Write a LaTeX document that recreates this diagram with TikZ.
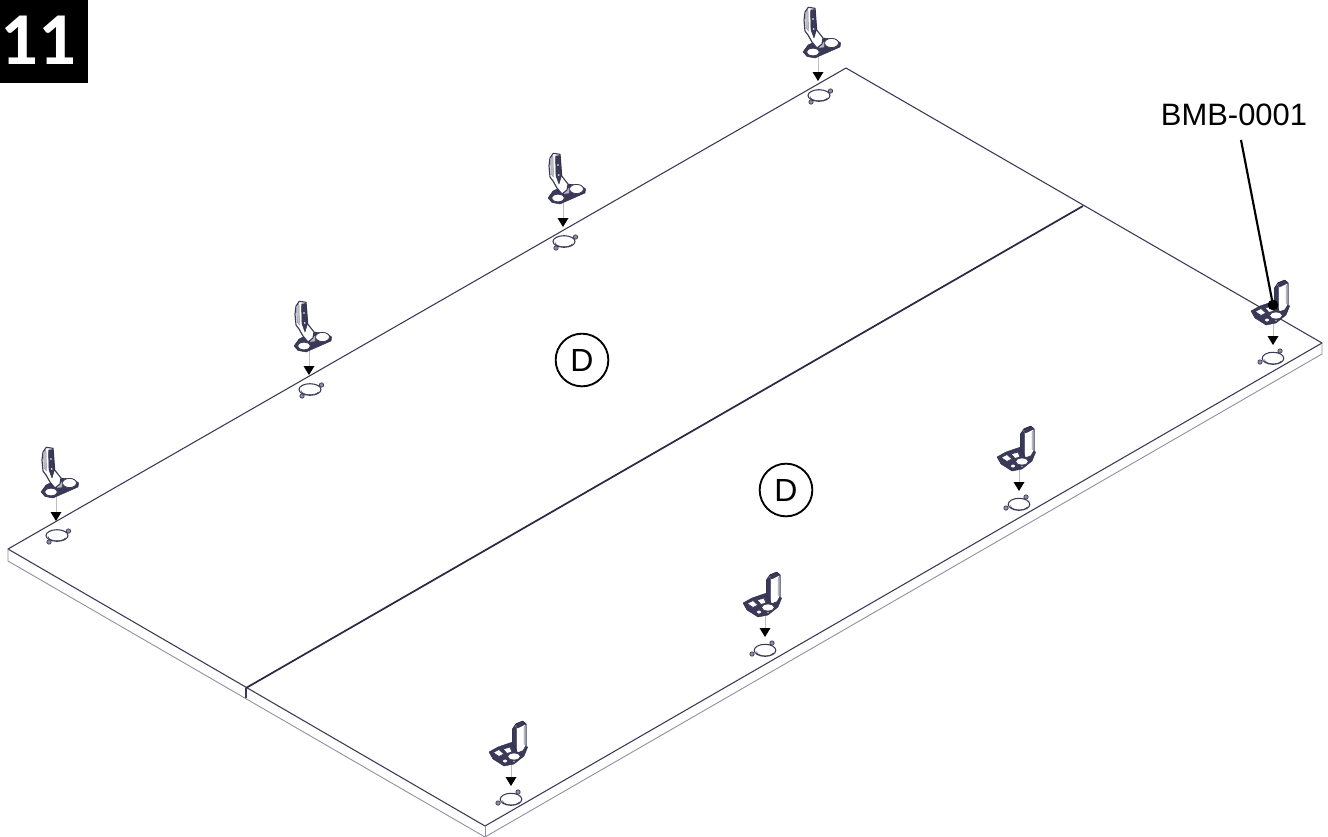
\documentclass[tikz,border=0pt]{standalone}
\usepackage{fontspec}
\setmainfont{Liberation Sans}
\newfontfamily\boxfont{Carlito}
\definecolor{ink}{HTML}{3A3A58}
\definecolor{inkdark}{HTML}{2A2A44}
\definecolor{soft}{HTML}{8E8E9E}
\definecolor{softer}{HTML}{BDBDC6}
\tikzset{
  x=0.75pt,y=-0.75pt,
  edge/.style={draw=ink,line width=0.8pt,line join=round},
  softedge/.style={draw=soft,line width=0.65pt,line join=round},
  seam/.style={draw=inkdark,line width=1.3pt},
  part/.style={draw=ink,line width=0.85pt,fill=white,line join=round},
  thinpart/.style={draw=ink,line width=0.6pt,fill=white,line join=round},
  partdark/.style={draw=inkdark,line width=0.3pt,fill=ink,line join=round},
  partgrey/.style={draw=soft,line width=0.3pt,fill=softer,line join=round},
  drop/.style={draw=softer,line width=0.7pt},
  tip/.style={fill=black,draw=none},
  holeedge/.style={draw=ink,line width=0.8pt,fill=white},
  tabedge/.style={draw=ink,line width=0.5pt,fill=soft},
  callout/.style={circle,draw=black,line width=1.4pt,minimum size=39.5pt,inner sep=0pt,font=\fontsize{24}{24}\selectfont},
  partlabel/.style={font=\fontsize{23.2}{24}\selectfont,text=black,inner sep=0pt},
  hingeback/.pic={
    \draw[drop] (0,-24) -- (0,-8);
    \fill[tip] (-5.5,-9) -- (5.5,-9) -- (0,0) -- cycle;
    % base plate
    \path[partdark] (-15,-29) -- (-10,-36) -- (5,-43) -- (17,-42) -- (22.7,-38) -- (22,-34) -- (-3,-23) -- (-11,-24.5) -- cycle;
    \path[thinpart] (13.5,-38) circle[x radius=7,y radius=4.6];
    \path[thinpart] (-5,-29) circle[x radius=6.5,y radius=3.8];
    \path[partgrey] (2,-37) -- (6,-39) -- (6,-34) -- (1,-33) -- cycle;
    % upright
    \path[part] (-14,-61) -- (-13,-69) -- (-9.7,-73.7) -- (-3,-72.7) -- (-1.3,-51) -- (5,-43) -- (4,-37) -- (-1,-33) -- (-6,-39) -- (-10,-46) -- (-13,-50) -- cycle;
    \path[partgrey] (-12.5,-68) -- (-10,-71) -- (-9.5,-50) -- (-12,-53) -- cycle;
    \path[partdark] (-7.5,-71) -- (-3,-71.5) -- (-1.6,-51) -- (-4,-43) -- (-7,-51) -- cycle;
    \path[fill=white] (-5,-62) circle[radius=0.9] (-4.2,-52) circle[radius=0.9];
    % hole
    \path[tabedge] (12.5,10) circle[radius=2.2];
    \path[tabedge] (-7,21) circle[radius=2.2];
    \path[holeedge] (1,14.5) circle[x radius=11,y radius=5.8];
    \draw[draw=ink,line width=0.4pt] (-8,15.5) arc[start angle=180,end angle=20,x radius=9,y radius=4.2];
  },
  hingefront/.pic={
    \draw[drop] (0,-22) -- (0,-8);
    \fill[tip] (-5.5,-9) -- (5.5,-9) -- (0,0) -- cycle;
    % base plate
    \path[partdark] (-22,-34) -- (-13,-39) -- (1.7,-44) -- (16.7,-39) -- (13,-30) -- (3,-22) -- (-7,-20) -- (-18,-27) -- cycle;
    \path[thinpart] (-18,-33.5) -- (-12,-36.5) -- (-7,-32) -- (-12,-29.5) -- cycle;
    \path[thinpart] (-8,-37) -- (-1,-39) -- (1,-34) -- (-4,-32.5) -- cycle;
    \path[thinpart] (3,-29.5) circle[x radius=6.5,y radius=3.5];
    \path[thinpart] (-6,-25) circle[x radius=2.6,y radius=2];
    \path[thinpart] (3,-24.5) circle[x radius=1.8,y radius=1.2];
    % upright
    \path[part] (1.7,-42) -- (1.7,-57) -- (5,-62) -- (11.7,-64.7) -- (15,-62) -- (15,-40) -- (12,-35) -- (6.5,-33) -- cycle;
    \path[partdark] (1.7,-42) -- (1.7,-57) -- (5.5,-60) -- (5.5,-35) -- cycle;
    \path[partdark] (5,-62) -- (11.7,-64.7) -- (14.7,-62) -- (6.5,-58) -- cycle;
    \path[partgrey] (13,-59) -- (14.5,-60) -- (14.5,-41) -- (13,-42) -- cycle;
    % hole
    \path[tabedge] (7,6) circle[radius=2.2];
    \path[tabedge] (-13,17) circle[radius=2.2];
    \path[holeedge] (0,13.3) circle[x radius=10.8,y radius=6];
    \draw[draw=ink,line width=0.4pt] (-8.5,14.5) arc[start angle=180,end angle=20,x radius=8.8,y radius=4.4];
  }
}
\begin{document}
\begin{tikzpicture}
\useasboundingbox (0,0) rectangle (1328,836);
% panel corners
\coordinate (L) at (8,549);
\coordinate (T) at (846,68);
\coordinate (R) at (1322,343);
\coordinate (F) at (485,826);
\coordinate (Lb) at (8,561);
\coordinate (Rb) at (1322,354);
\coordinate (Fb) at (485,837);
\coordinate (St) at (1083,206);
\coordinate (Sb) at (246,688);
\coordinate (Sd) at (246,698);
% panels
\path[fill=white] (L) -- (T) -- (R) -- (Rb) -- (Fb) -- (Lb) -- cycle;
\draw[edge] (L) -- (T) -- (R) -- (F) -- cycle;
\draw[softedge] (L) -- (Lb) -- (Fb);
\draw[softedge] (R) -- (Rb) -- (Fb);
\draw[softedge] (F) -- (Fb);
\draw[seam] (St) -- (Sb);
\draw[edge] (Sb) -- (Sd);
% hardware
\path (818,81) pic {hingeback};
\path (563,227) pic {hingeback};
\path (309,375) pic {hingeback};
\path (56,521) pic {hingeback};
\path (1273,345) pic {hingefront};
\path (1019,491) pic {hingefront};
\path (765,637) pic {hingefront};
\path (511,786) pic {hingefront};
% callouts
\node[callout] (d1) at (582,360) {D};
\node[callout] (d2) at (786,490) {D};
% step number
\path[fill=black] (0,0) rectangle (88,83);
\node[text=white,inner sep=0pt,font=\boxfont\bfseries\fontsize{56}{56}\selectfont] (step) at (38,40) {11};
% label and leader
\node[partlabel] (lab) at (1234,115) {BMB-0001};
\coordinate (leadfrom) at (1241,140);
\node[circle,fill=black,minimum size=8pt,inner sep=0pt] (dot) at (1273,305) {};
\draw[black,line width=1.6pt] (leadfrom) -- (dot.center);
\end{tikzpicture}
\end{document}
